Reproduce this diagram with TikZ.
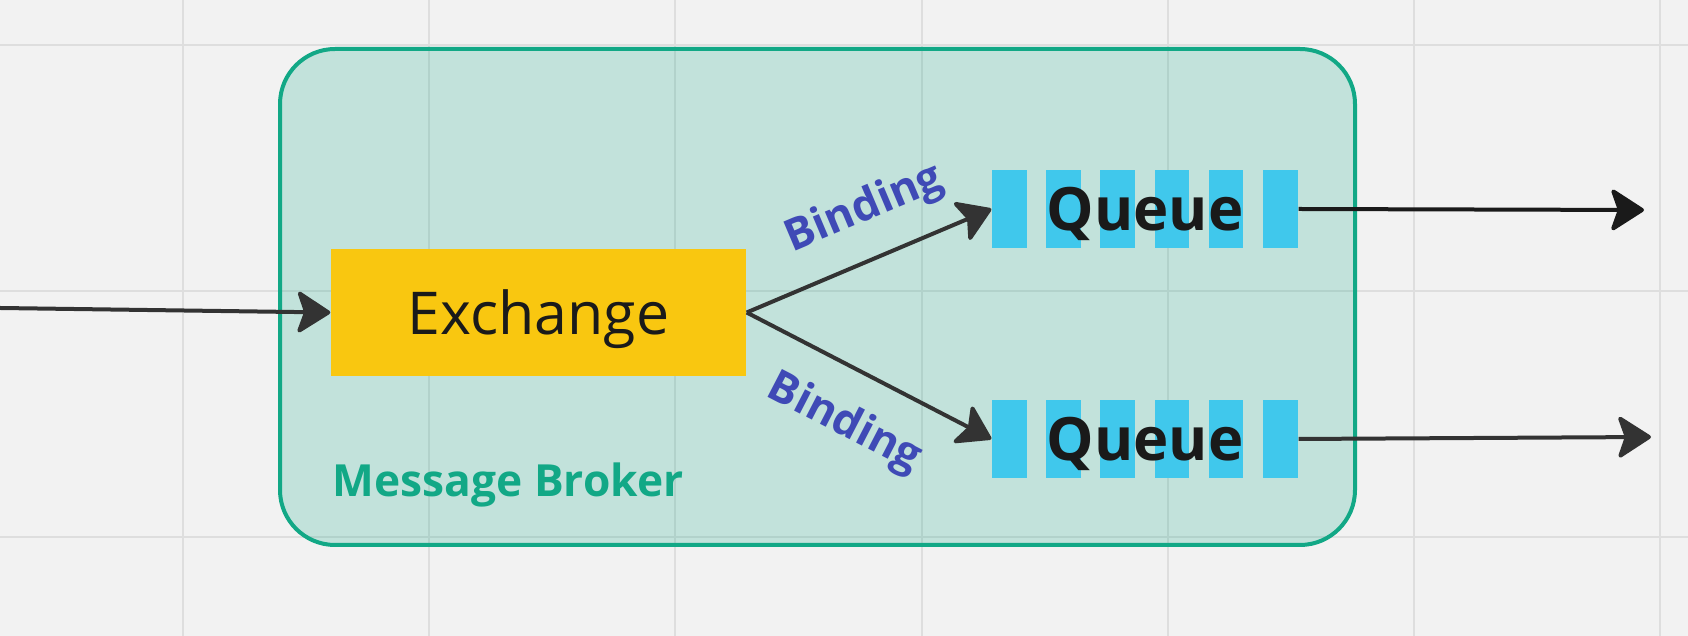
\documentclass[tikz,border=0pt]{standalone}
\usepackage{fontspec}
\setmainfont{Open Sans}
\usetikzlibrary{arrows.meta}

\definecolor{paper}{HTML}{F2F2F2}
\definecolor{gridgray}{HTML}{DEDEDE}
\definecolor{brokergreen}{HTML}{12A886}
\definecolor{exyellow}{HTML}{F9C710}
\definecolor{queuecyan}{HTML}{40C8EC}
\definecolor{arrowgray}{HTML}{333333}
\definecolor{bindblue}{HTML}{3F4AB6}
\definecolor{inkblack}{HTML}{1A1A1A}

\begin{document}
\begin{tikzpicture}[
                        arrow/.style={draw=arrowgray, line width=0.04cm,
                          -{Stealth[length=0.36cm, width=0.46cm, inset=0.08cm, round]}},
                        binding/.style={font=\fontsize{12.5}{14}\selectfont\bfseries,
                          text=bindblue, sloped, inner sep=0pt},
                        queue/.style={minimum width=3.06cm, minimum height=0.78cm, inner sep=0pt,
                          text depth=0pt, text=inkblack, font=\fontsize{17}{20}\selectfont\bfseries,
                          path picture={\foreach \i in {0,...,5} {
                            \fill[queuecyan] ([xshift=\i*0.542cm]path picture bounding box.south west)
                              rectangle ++(0.345,0.78);}}}]

                        % Canvas and grid
                        \useasboundingbox[fill=paper] (0,0) rectangle (16.88,-6.36);
                        \foreach \x in {1.83,4.292,6.754,9.216,11.678,14.14,16.602}
                          \draw[gridgray, line width=0.02cm] (\x,0) -- (\x,-6.36);
                        \foreach \y in {-0.45,-2.912,-5.374}
                          \draw[gridgray, line width=0.02cm] (0,\y) -- (16.88,\y);

                        % Message broker
                        \draw[brokergreen, line width=0.04cm, rounded corners=0.55cm,
                          fill=brokergreen, fill opacity=0.21] (2.8,-0.49) rectangle (13.55,-5.45);
                        \node[anchor=base west, inner sep=0pt, text=brokergreen,
                          font=\fontsize{12.6}{15}\selectfont\bfseries] (broker) at (3.32,-4.97) {Message Broker};

                        % Exchange and queues
                        \node[fill=exyellow, minimum width=4.15cm, minimum height=1.27cm, inner sep=0pt,
                          text depth=0pt, text=inkblack, font=\fontsize{16.8}{19}\selectfont] (exchange) at (5.385,-3.125) {Exchange}; % Entry point
                        \node[queue] (qtop) at (11.45,-2.09) {Queue}; % Upper queue
                        \node[queue] (qbot) at (11.45,-4.39) {Queue}; % Lower queue

                        % Free ends
                        \coordinate (src) at (0,-3.08);
                        \coordinate (outtop) at (16.44,-2.10);
                        \coordinate (outbot) at (16.51,-4.37);

                        % Connectors
                        \path[arrow] (src) -- (exchange.west);
                        \path[arrow] (exchange.east) -- (qtop.west) node[binding, pos=0.56, above=0.25cm] {Binding};
                        \path[arrow] (exchange.east) -- (qbot.west) node[binding, pos=0.5, below=0.3cm] {Binding};
                        \path[arrow, draw=inkblack] (qtop.east) -- (outtop);
                        \path[arrow] (qbot.east) -- (outbot);
                    \end{tikzpicture}
\end{document}
